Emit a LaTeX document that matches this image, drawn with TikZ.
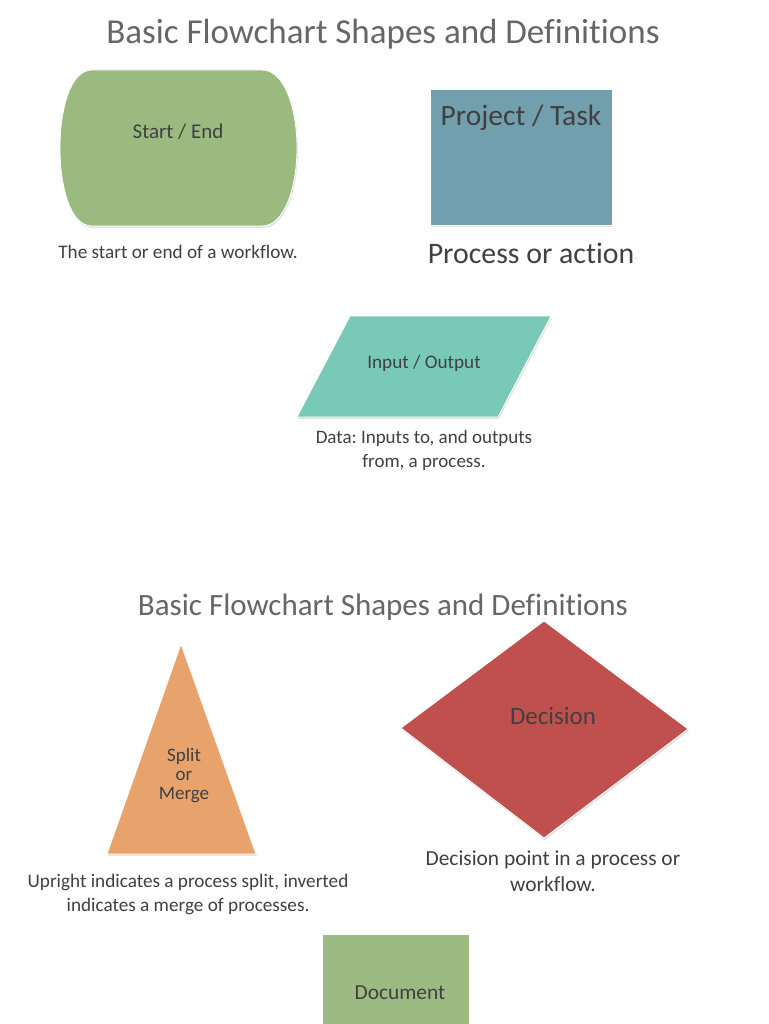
\documentclass[tikz,border=0pt]{standalone}
\usepackage{fontspec}
\setmainfont{Carlito}[RawFeature=-liga]
\frenchspacing
\usetikzlibrary{shadows}
\definecolor{txt}{HTML}{404040}
\definecolor{ttl}{HTML}{666666}
\definecolor{gstart}{HTML}{9ABA7F}
\definecolor{gdoc}{HTML}{9BBB82}
\definecolor{teal}{HTML}{729FAD}
\definecolor{mint}{HTML}{79C9B9}
\definecolor{orng}{HTML}{E8A36D}
\definecolor{redd}{HTML}{C0504D}
\tikzset{
  shapefill/.style={draw=white, line width=0.8pt, drop shadow={opacity=0.22, shadow xshift=1pt, shadow yshift=-2pt}},
  lbl/.style={text=txt, inner sep=0pt, align=center},
  title/.style={text=ttl, inner sep=0pt}
}
\begin{document}
\begin{tikzpicture}[x=1pt,y=-1pt]
\useasboundingbox[fill=white] (0,0) rectangle (768,1024);
% titles
\node[title, font=\fontsize{35}{40}\selectfont] (t1) at (383,34) {Basic Flowchart Shapes and Definitions};
\node[title, font=\fontsize{31}{36}\selectfont] (t2) at (383,607) {Basic Flowchart Shapes and Definitions};
% start / end
\path[shapefill, fill=gstart] (92,70) -- (262,70) .. controls (285,70) and (297,110) .. (297,148) .. controls (297,186) and (285,226) .. (262,226) -- (92,226) .. controls (70,226) and (60,186) .. (60,148) .. controls (60,110) and (70,70) .. (92,70) -- cycle;
\node[lbl, font=\fontsize{21}{24}\selectfont] (se) at (178,132) {Start / End};
\node[lbl, font=\fontsize{19.2}{22}\selectfont] (sec) at (178,252) {The start or end of a workflow.};
% project / task
\path[shapefill, fill=teal] (430,89) rectangle (612,225);
\node[lbl, font=\fontsize{29.5}{34}\selectfont] (pt) at (521,118) {Project / Task};
\node[lbl, font=\fontsize{29.8}{34}\selectfont] (ptc) at (531,253) {Process or action};
\node[lbl, text=black!40, font=\fontsize{9}{10}\selectfont] (dot) at (636,259) {.};
% input / output
\path[shapefill, fill=mint] (297,417) -- (350,316) -- (551,316) -- (498,417) -- cycle;
\node[lbl, font=\fontsize{19.2}{22}\selectfont] (io) at (424,363) {Input / Output};
\node[lbl, font=\fontsize{19}{24}\selectfont] (ioc) at (424,450) {Data: Inputs to, and outputs\\from, a process.};
% split / merge
\path[shapefill, fill=orng] (181,644) -- (256,854) -- (107,854) -- cycle;
\node[lbl, font=\fontsize{19}{19}\selectfont] (sm) at (184,776) {Split\\or\\Merge};
\node[lbl, font=\fontsize{19.2}{24}\selectfont] (smc) at (188,894) {Upright indicates a process split, inverted\\indicates a merge of processes.};
% decision
\path[shapefill, fill=redd] (544,621) -- (688,729) -- (544,838) -- (401,728) -- cycle;
\node[lbl, font=\fontsize{25}{28}\selectfont] (dc) at (553,716) {Decision};
\node[lbl, font=\fontsize{21.4}{26}\selectfont] (dcc) at (553,871) {Decision point in a process or\\workflow.};
% document
\path[shapefill, fill=gdoc] (322,934) rectangle (469,1030);
\node[lbl, font=\fontsize{21.4}{24}\selectfont] (doc) at (400,993) {Document};
\end{tikzpicture}
\end{document}
